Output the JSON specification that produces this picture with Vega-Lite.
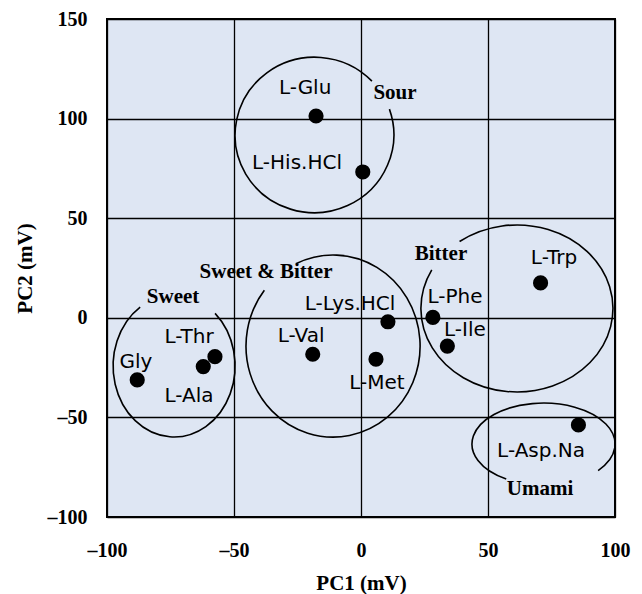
{
  "$schema": "https://vega.github.io/schema/vega-lite/v6.json",
  "width": 508,
  "height": 498,
  "autosize": {"type": "none"},
  "padding": {"left": 107, "top": 19, "right": 27, "bottom": 77},
  "background": "white",
  "config": {
    "view": {"fill": "#dee6f3", "stroke": "black", "strokeWidth": 2}
  },
  "datasets": {
    "points": [
      {"name": "L-Glu", "x": -17.7, "y": 101.3},
      {"name": "L-His.HCl", "x": 0.7, "y": 73.2},
      {"name": "L-Trp", "x": 70.7, "y": 17.5},
      {"name": "L-Phe", "x": 28.3, "y": 0.2},
      {"name": "L-Lys.HCl", "x": 10.6, "y": -2.0},
      {"name": "L-Ile", "x": 34.0, "y": -14.2},
      {"name": "L-Met", "x": 5.9, "y": -20.8},
      {"name": "L-Asp.Na", "x": 85.6, "y": -53.8},
      {"name": "L-Val", "x": -19.0, "y": -18.3},
      {"name": "Gly", "x": -88.1, "y": -31.2},
      {"name": "L-Ala", "x": -62.1, "y": -24.5},
      {"name": "L-Thr", "x": -57.5, "y": -19.5}
    ],
    "labels": [
      {"label": "L-Glu", "x": -22.0, "y": 115.2},
      {"label": "L-His.HCl", "x": -25.2, "y": 77.6},
      {"label": "L-Trp", "x": 76.0, "y": 29.9},
      {"label": "L-Phe", "x": 37.0, "y": 10.3},
      {"label": "L-Ile", "x": 40.9, "y": -6.3},
      {"label": "L-Lys.HCl", "x": -4.3, "y": 6.8},
      {"label": "L-Val", "x": -23.6, "y": -9.3},
      {"label": "L-Met", "x": 6.3, "y": -32.9},
      {"label": "L-Thr", "x": -67.7, "y": -9.8},
      {"label": "Gly", "x": -88.6, "y": -22.1},
      {"label": "L-Ala", "x": -67.7, "y": -39.2},
      {"label": "L-Asp.Na", "x": 70.9, "y": -66.8}
    ],
    "groups": [
      {"label": "Sour", "x": 13.4, "y": 112.8},
      {"label": "Sweet & Bitter", "x": -37.4, "y": 22.8},
      {"label": "Sweet", "x": -74.0, "y": 10.3},
      {"label": "Bitter", "x": 31.5, "y": 32.1},
      {"label": "Umami", "x": 70.5, "y": -85.9}
    ],
    "ellipses": [
      {"group": "Sour", "x": -18.3, "y": 91.7},
      {"group": "Sweet", "x": -73.6, "y": -24.2},
      {"group": "Sweet & Bitter", "x": -11.0, "y": -14.2},
      {"group": "Bitter", "x": 61.4, "y": 4.7},
      {"group": "Umami", "x": 71.9, "y": -63.4}
    ]
  },
  "encoding": {
    "x": {
      "field": "x",
      "type": "quantitative",
      "scale": {"domain": [-100, 100], "nice": false, "zero": false},
      "axis": {
        "values": [-100, -50, 0, 50, 100],
        "title": "PC1 (mV)",
        "grid": true,
        "gridColor": "black",
        "gridWidth": 1.3,
        "gridOpacity": 1,
        "ticks": false,
        "tickSize": 0,
        "domain": false,
        "labelFont": "Liberation Serif",
        "labelFontWeight": "bold",
        "labelFontSize": 20,
        "labelColor": "black",
        "labelPadding": 23,
        "labelFlush": false,
        "labelOverlap": false,
        "labelExpr": "datum.value < 0 ? '–' + abs(datum.value) : datum.label",
        "titleFont": "Liberation Serif",
        "titleFontWeight": "bold",
        "titleFontSize": 21,
        "titleColor": "black",
        "titleBaseline": "middle",
        "titleX": 254,
        "titleY": 66
      }
    },
    "y": {
      "field": "y",
      "type": "quantitative",
      "scale": {"domain": [-100, 150], "nice": false, "zero": false},
      "axis": {
        "values": [-100, -50, 0, 50, 100, 150],
        "title": "PC2 (mV)",
        "grid": true,
        "gridColor": "black",
        "gridWidth": 1.3,
        "gridOpacity": 1,
        "ticks": false,
        "tickSize": 0,
        "domain": false,
        "labelFont": "Liberation Serif",
        "labelFontWeight": "bold",
        "labelFontSize": 20,
        "labelColor": "black",
        "labelPadding": 20,
        "labelFlush": false,
        "labelOverlap": false,
        "labelExpr": "datum.value < 0 ? '–' + abs(datum.value) : datum.label",
        "titleFont": "Liberation Serif",
        "titleFontWeight": "bold",
        "titleFontSize": 21,
        "titleColor": "black",
        "titleBaseline": "middle",
        "titleX": -82,
        "titleY": 249
      }
    }
  },
  "layer": [
    {
      "data": {"name": "ellipses"},
      "mark": {"type": "point", "filled": false, "stroke": "black", "strokeWidth": 1.6, "size": 4, "opacity": 1},
      "encoding": {
        "shape": {
          "field": "group",
          "type": "nominal",
          "legend": null,
          "scale": {
            "domain": ["Sour", "Sweet", "Sweet & Bitter", "Bitter", "Umami"],
            "range": [
              "M74.9,-26 A79.5,78 0 0 1 -68.8,39 A79.5,78 0 0 1 57.4,-54",
              "M41,-52.6 A61,71 0 0 1 -4.3,70.8 A61,71 0 0 1 -33.9,-59",
              "M-37.2,-82.3 A87,91 0 0 1 86.8,-6.7 A87,91 0 0 1 -25.3,87.1 A87,91 0 0 1 -68.7,-55.9",
              "M-57.4,-66.9 A96,83.5 0 0 1 92.6,-22 A96,83.5 0 0 1 -10.2,83 A96,83.5 0 0 1 -85.2,-38.6",
              "M-37.4,35 A71.5,41 0 0 1 -11.2,-40.5 A71.5,41 0 0 1 54.5,26.5"
            ]
          }
        }
      }
    },
    {
      "data": {"name": "points"},
      "mark": {"type": "circle", "size": 230, "color": "black", "opacity": 1}
    },
    {
      "data": {"name": "labels"},
      "mark": {"type": "text", "font": "DejaVu Sans", "fontSize": 20, "fill": "black", "align": "center", "baseline": "middle"},
      "encoding": {"text": {"field": "label"}}
    },
    {
      "data": {"name": "groups"},
      "mark": {"type": "text", "font": "Liberation Serif", "fontWeight": "bold", "fontSize": 21, "fill": "black", "align": "center", "baseline": "middle"},
      "encoding": {"text": {"field": "label"}}
    }
  ]
}
